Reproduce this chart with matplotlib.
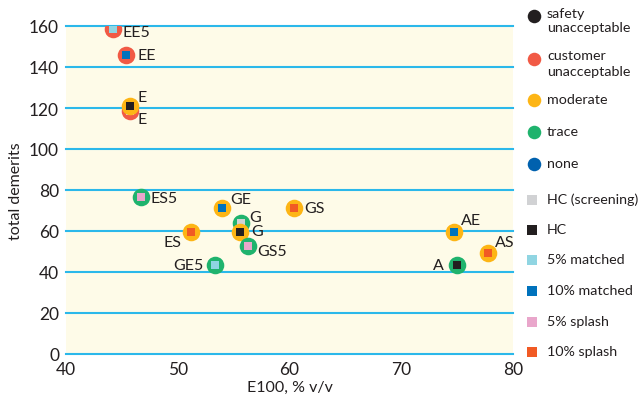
import matplotlib
matplotlib.use('Agg')
import matplotlib.pyplot as plt

# 데이터: E100, 총 감점, 등급, 연료 종류
labels = ['EE5', 'EE', 'E', 'E', 'ES5', 'GE', 'G', 'G', 'GS', 'ES', 'GS5', 'GE5', 'AE', 'AS', 'A']
e100 = [44.2, 45.4, 45.7, 45.7, 46.7, 54.0, 55.7, 55.6, 60.4, 51.2, 56.3, 53.3, 74.7, 77.8, 75.0]
demerits = [158.5, 145.9, 118.5, 121.2, 76.6, 71.1, 63.7, 59.3, 71.4, 59.7, 52.5, 43.4, 59.5, 49.4, 43.4]
rating = ['customer', 'customer', 'customer', 'moderate', 'trace', 'moderate', 'trace', 'moderate',
          'moderate', 'moderate', 'trace', 'trace', 'moderate', 'moderate', 'trace']
fuel = ['5m', '10m', 'hcs', 'hc', '5s', '10m', 'hcs', 'hc', '10s', '10s', '5s', '5m', '10m', '10s', 'hc']

# 라벨 위치 (픽셀 오프셋, 아래쪽이 +, 정렬)
label_pos = [(10, 3, 'left'), (11, 0, 'left'), (8, 8, 'left'), (8, -9, 'left'), (10, 1, 'left'),
             (8, -9, 'left'), (8, -6, 'left'), (11, -1, 'left'), (10, 0, 'left'), (-10, 10, 'right'),
             (9, 5, 'left'), (-11, 0, 'right'), (7, -12, 'left'), (7, -11, 'left'), (-13, 0, 'right')]

rating_names = ['safety\nunacceptable', 'customer\nunacceptable', 'moderate', 'trace', 'none']
rating_keys = ['safety', 'customer', 'moderate', 'trace', 'none']
rating_colors = {'safety': '#231f20', 'customer': '#f15a45', 'moderate': '#fdb515',
                 'trace': '#1fb36d', 'none': '#0061ae'}
fuel_names = ['HC (screening)', 'HC', '5% matched', '10% matched', '5% splash', '10% splash']
fuel_keys = ['hcs', 'hc', '5m', '10m', '5s', '10s']
fuel_colors = {'hcs': '#d1d2d4', 'hc': '#231f20', '5m': '#90d5e2', '10m': '#0072bc',
               '5s': '#e9a6cb', '10s': '#f15a24'}

plt.rcParams['font.family'] = ['Lato', 'DejaVu Sans']
text_color = '#231f20'

fig = plt.figure(figsize=(6.4, 4.1), dpi=100)
ax = fig.add_axes([66 / 640, 1 - 355 / 410, (513 - 66) / 640, (355 - 27) / 410])
ax.set_facecolor('#fefbe8')
ax.set_xlim(40, 80)
ax.set_ylim(0, 160)
ax.set_yticks(range(0, 161, 20))
ax.set_xticks(range(40, 81, 10))
for y in range(0, 161, 20):
    ax.axhline(y, color='#2bb8ea', lw=1.5, zorder=1, clip_on=False)
for s in ax.spines.values():
    s.set_visible(False)
ax.tick_params(length=0, labelsize=12.5, colors=text_color, pad=5)
ax.tick_params(axis='x', pad=5)
ax.set_xlabel('E100, % v/v', fontsize=11.5, color=text_color, labelpad=2)
ax.set_ylabel('total demerits', fontsize=11.5, color=text_color, labelpad=4)

for i in range(len(labels)):
    ax.scatter(e100[i], demerits[i], s=160, color=rating_colors[rating[i]], zorder=3 + i * 0.01,
               linewidths=0)
    ax.scatter(e100[i], demerits[i], s=40, marker='s', color=fuel_colors[fuel[i]],
               zorder=3.005 + i * 0.01, linewidths=0)
    dx, dy, ha = label_pos[i]
    ax.annotate(labels[i], (e100[i], demerits[i]), xytext=(dx, -dy), textcoords='offset pixels',
                ha=ha, va='center', fontsize=11.5, color=text_color, zorder=5)

# 범례 (그림 좌표)
leg = fig.add_axes([0, 0, 1, 1])
leg.set_xlim(0, 640)
leg.set_ylim(410, 0)
leg.axis('off')
leg.patch.set_alpha(0)
circle_y = [16.5, 59.5, 101, 133, 165]
for k, name, y in zip(rating_keys, rating_names, circle_y):
    leg.scatter(534, y, s=95, color=rating_colors[k], linewidths=0)
    if '\n' in name:
        leg.text(547, y - 9, name, fontsize=10.3, color=text_color, va='top', linespacing=1.3)
    else:
        leg.text(547, y - 1, name, fontsize=10.3, color=text_color, va='center')
square_y = [201, 231, 261, 292, 323, 353]
for k, name, y in zip(fuel_keys, fuel_names, square_y):
    leg.scatter(532, y, s=55, marker='s', color=fuel_colors[k], linewidths=0)
    leg.text(547, y - 1, name, fontsize=10.3, color=text_color, va='center')

fig.savefig('out.png', dpi=100)
